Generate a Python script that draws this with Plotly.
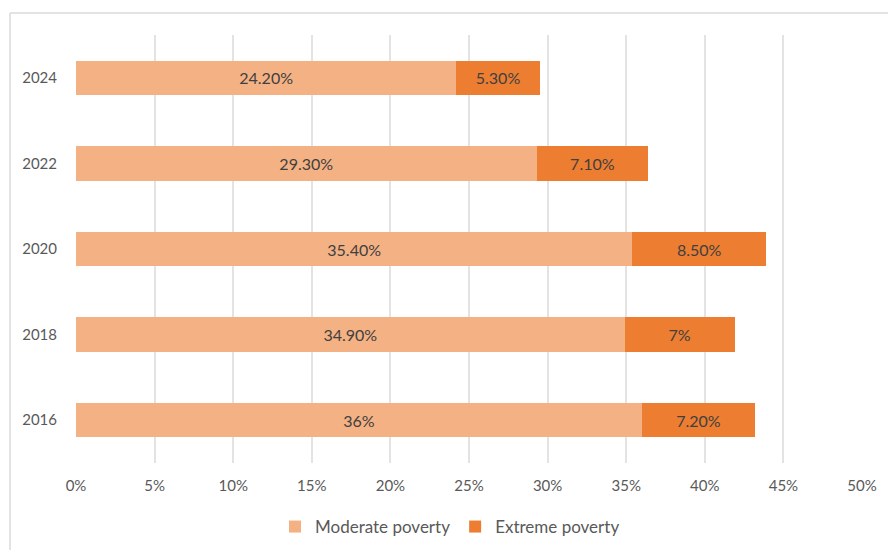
import plotly.graph_objects as go

# Poverty rates by survey year (percent of population)
years = ["2016", "2018", "2020", "2022", "2024"]
moderate = [36.0, 34.9, 35.4, 29.3, 24.2]
extreme = [7.2, 7.0, 8.5, 7.1, 5.3]
x_ticks = [0, 5, 10, 15, 20, 25, 30, 35, 40, 45, 50]


def pct_label(v):
    return f"{v:.0f}%" if float(v).is_integer() else f"{v:.2f}%"


W, H = 888, 550
L, R, T, B = 76, 26, 35, 87
FONT = "Lato, 'Open Sans', sans-serif"

fig = go.Figure()
fig.add_trace(go.Bar(
    y=years, x=moderate, orientation="h", name="Moderate poverty",
    marker=dict(color="#F4B183", line=dict(width=0)),
    text=[pct_label(v) for v in moderate], textposition="inside",
    insidetextanchor="middle", textangle=0,
    textfont=dict(family=FONT, size=16, color="#404040"),
))
fig.add_trace(go.Bar(
    y=years, x=extreme, orientation="h", name="Extreme poverty",
    marker=dict(color="#ED7D31", line=dict(width=0)),
    text=[pct_label(v) for v in extreme], textposition="inside",
    insidetextanchor="middle", textangle=0,
    textfont=dict(family=FONT, size=16, color="#404040"),
))

pw = W - L - R
ph = H - T - B


def px_x(p):
    return (p - L) / pw


def px_y(p):
    return (H - B - p) / ph


# Light frame around the chart area
frame = dict(type="line", xref="paper", yref="paper",
             line=dict(color="#DADADA", width=1.5))
fig.add_shape(**frame, x0=px_x(10), x1=px_x(W + 5), y0=px_y(13), y1=px_y(13))
fig.add_shape(**frame, x0=px_x(10), x1=px_x(10), y0=px_y(13), y1=px_y(H + 5))

fig.update_layout(
    width=W, height=H,
    margin=dict(l=L, r=R, t=T, b=B, autoexpand=False),
    barmode="stack", bargap=0.6,
    plot_bgcolor="white", paper_bgcolor="white",
    font=dict(family=FONT, size=15, color="#595959"),
    xaxis=dict(
        range=[0, 50], tickvals=x_ticks,
        ticktext=[f"{v}%" for v in x_ticks],
        showgrid=True, gridcolor="#E3E3E3", gridwidth=2,
        zeroline=False, showline=False, ticks="",
        ticklabelstandoff=12,
        tickfont=dict(size=15, color="#595959"),
    ),
    yaxis=dict(
        showgrid=False, zeroline=False, showline=False, ticks="",
        ticklabelstandoff=18,
        tickfont=dict(size=15, color="#595959"),
    ),
    legend=dict(
        orientation="h", traceorder="normal",
        x=px_x(450), xanchor="center",
        yref="container", y=1 - 527 / H, yanchor="middle",
        font=dict(size=17, color="#595959"),
        itemwidth=30,
    ),
    uniformtext=dict(mode="show", minsize=8),
)

fig.write_html("out.html")
